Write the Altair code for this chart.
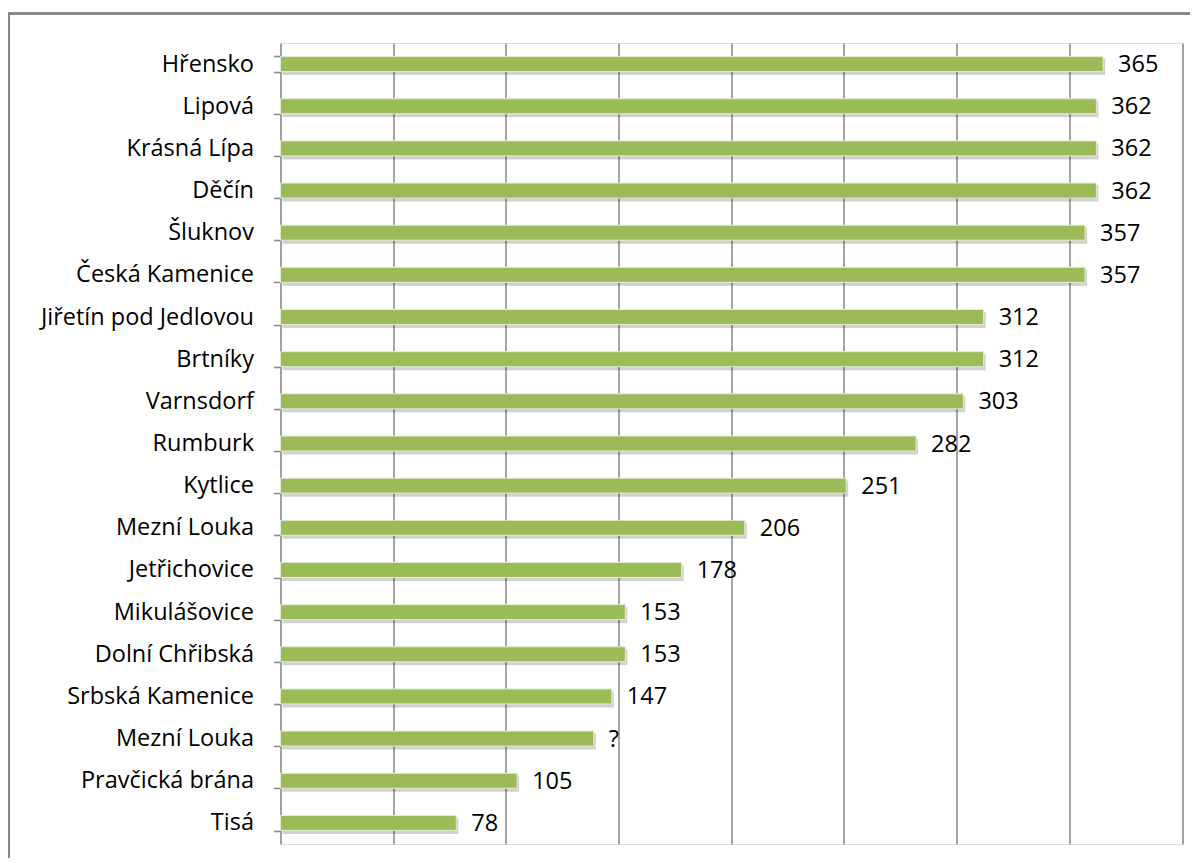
import json
import altair as alt
import pandas as pd

names = ["Hřensko", "Lipová", "Krásná Lípa", "Děčín", "Šluknov", "Česká Kamenice",
         "Jiřetín pod Jedlovou", "Brtníky", "Varnsdorf", "Rumburk", "Kytlice",
         "Mezní Louka", "Jetřichovice", "Mikulášovice", "Dolní Chřibská",
         "Srbská Kamenice", "Mezní Louka", "Pravčická brána", "Tisá"]
values = [365, 362, 362, 362, 357, 357, 312, 312, 303, 282, 251, 206, 178, 153, 153, 147, 139, 105, 78]
labels = ["365", "362", "362", "362", "357", "357", "312", "312", "303", "282", "251",
          "206", "178", "153", "153", "147", "?", "105", "78"]

df = pd.DataFrame({"idx": list(range(len(names))), "name": names, "value": values, "label": labels})

FONT = "Open Sans"
FS = 23.5
GRAY = "#878787"
W, H = 901.5, 801

yenc = alt.Y("idx:O", axis=alt.Axis(
    title=None,
    labelExpr=json.dumps(names, ensure_ascii=False) + "[datum.value]",
    labelFont=FONT, labelFontSize=FS, labelColor="#000000", labelLimit=400,
    labelPadding=20, tickSize=7, tickColor=GRAY, tickWidth=1.5,
    domainColor=GRAY, domainWidth=1.5, tickBand="extent", grid=False,
), scale=alt.Scale(paddingInner=0.64, paddingOuter=0.32))

xenc = alt.X("value:Q", scale=alt.Scale(domain=[0, 400], nice=False),
             axis=alt.Axis(title=None, labels=False, ticks=False, domain=False,
                           values=[50, 100, 150, 200, 250, 300, 350, 400],
                           grid=True, gridColor=GRAY, gridWidth=1.5))

base = alt.Chart(df)

shadow = base.mark_bar(color="#000000", opacity=0.18, yOffset=3, xOffset=2, size=16).encode(
    x=xenc, y=yenc)
bars = base.mark_bar(color="#9BBB59", stroke="#e3ecd2", strokeWidth=1, size=15).encode(
    x=alt.X("value:Q"), y=alt.Y("idx:O"))
text = base.mark_text(align="left", baseline="middle", dx=15, dy=1, font=FONT, fontSize=FS,
                      color="#000000").encode(
    x=alt.X("value:Q"), y=alt.Y("idx:O"), text="label:N")

border_top = base.mark_rule(color=GRAY, strokeWidth=1.5).encode(
    x=alt.value(-272), x2=alt.value(1000), y=alt.value(-29.5))
border_left = base.mark_rule(color=GRAY, strokeWidth=1.5).encode(
    x=alt.value(-272), y=alt.value(-29.5), y2=alt.value(1000))

chart = alt.layer(shadow, bars, text, border_top, border_left).properties(
    width=W, height=H,
    autosize=alt.AutoSizeParams(type="none"),
    padding={"left": 272.5, "top": 35, "right": 8, "bottom": 14},
).configure_view(stroke=None).configure(background="#ffffff")

chart.save("out.html", embed_options={"renderer": "svg", "actions": False})
